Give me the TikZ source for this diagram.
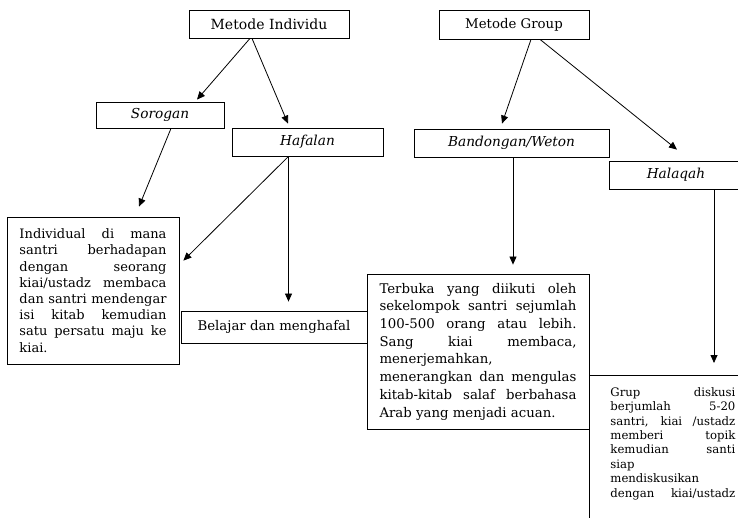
\documentclass[tikz,border=0pt]{standalone}
\usepackage{fontspec}
\setmainfont{DejaVu Serif}
\usetikzlibrary{arrows.meta}
\newcommand{\jl}[1]{\makebox[\linewidth][s]{#1}\\}
\begin{document}
\begin{tikzpicture}[x=1pt,y=-1pt,
  box/.style={draw, line width=0.8pt, inner sep=0pt, font=\fontsize{13.3}{15}\selectfont},
  lab/.style={box, font=\fontsize{13.7}{15}\selectfont\itshape},
  para/.style={draw, line width=0.8pt, inner ysep=0pt},
  arr/.style={-{Triangle[length=8pt,width=7pt]}, line width=0.8pt}
]
\useasboundingbox (0,0) rectangle (738,518);
\fill[white] (0,0) rectangle (738,518);

\node[box, minimum width=160pt, minimum height=28pt, font=\fontsize{14}{15}\selectfont] (mi) at (269,24) {Metode Individu};
\node[box, minimum width=150pt, minimum height=29pt] (mg) at (514,24.5) {Metode Group};
\node[lab, minimum width=128pt, minimum height=26pt] (sor) at (160,115) {Sorogan};
\node[lab, minimum width=151pt, minimum height=28pt] (haf) at (307.5,142) {Hafalan};
\node[lab, minimum width=195pt, minimum height=28pt] (ban) at (511.5,143) {Bandongan/Weton};
\node[lab, minimum width=134pt, minimum height=28pt] (hal) at (676,175) {Halaqah};

\node[para, inner xsep=12.5pt, minimum height=147pt,
  font=\fontsize{13}{16.2}\selectfont] (ind) at (93,290.5) {%
\parbox{147pt}{%
\jl{Individual di mana}
\jl{santri berhadapan}
\jl{dengan seorang}
\jl{kiai/ustadz membaca}
\jl{dan santri mendengar}
\jl{isi kitab kemudian}
\jl{satu persatu maju ke}
kiai.}};

\node[box, minimum width=186pt, minimum height=32pt] (bel) at (274,327) {Belajar dan menghafal};

\node[para, inner xsep=12.5pt, minimum height=155pt,
  font=\fontsize{13.3}{17.7}\selectfont] (ter) at (478,351.5) {%
\parbox{197pt}{%
\jl{Terbuka yang diikuti oleh}
\jl{sekelompok santri sejumlah}
\jl{100-500 orang atau lebih.}
\jl{Sang kiai membaca,}
menerjemahkan,\\
\jl{menerangkan dan mengulas}
\jl{kitab-kitab salaf berbahasa}
Arab yang menjadi acuan.}};

\node[draw, line width=0.8pt, anchor=north west, inner xsep=21pt, inner ysep=12pt,
  font=\fontsize{11.7}{14.4}\selectfont] (grup) at (589,375) {%
\parbox[t][170pt][t]{125pt}{%
\jl{Grup diskusi}
\jl{berjumlah 5-20}
\jl{santri, kiai /ustadz}
\jl{memberi topik}
\jl{kemudian santi}
siap\\
mendiskusikan\\
\jl{dengan kiai/ustadz}}};

\coordinate (hafout) at ([xshift=-19pt]haf.south);
\coordinate (belin) at ([yshift=9pt]bel.north);
\coordinate (terin) at ([yshift=9pt]ter.north);
\coordinate (grupin) at ([yshift=12pt]grup.north);
\coordinate (banout) at ([xshift=1.5pt]ban.south);
\coordinate (halout) at ([xshift=38pt]hal.south);
\draw[arr] ([xshift=-19pt]mi.south) -- ([xshift=37pt,yshift=2pt]sor.north);
\draw[arr] ([xshift=-17pt]mi.south) -- ([xshift=-19.5pt,yshift=4pt]haf.north);
\draw[arr] ([xshift=11pt]sor.south) -- ([xshift=46pt,yshift=10pt]ind.north);
\draw[arr] (hafout) -- ([xshift=4pt,yshift=-44pt]ind.north east);
\draw[arr] (hafout) -- (hafout |- belin);
\draw[arr] ([xshift=17pt]mg.south) -- ([xshift=-9.5pt,yshift=5pt]ban.north);
\draw[arr] ([xshift=26pt]mg.south) -- ([xshift=1pt,yshift=11pt]hal.north);
\draw[arr] (banout) -- (banout |- terin);
\draw[arr] (halout) -- (halout |- grupin);
\end{tikzpicture}
\end{document}
